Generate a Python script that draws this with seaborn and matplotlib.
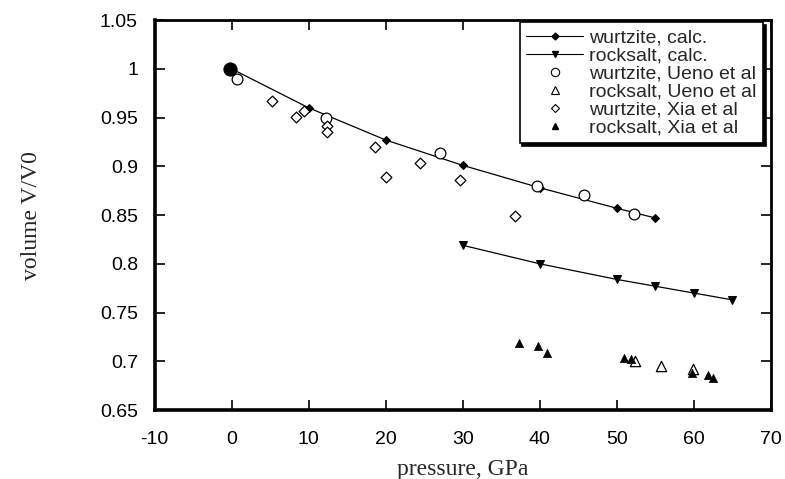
import numpy as np
import pandas as pd
import seaborn as sns
import matplotlib
matplotlib.use("Agg")
import matplotlib.pyplot as plt
from matplotlib.lines import Line2D
from matplotlib.ticker import FuncFormatter

# ---- data ----
wz_calc_p = [0, 10, 20, 30, 40, 50, 55]
wz_calc_v = [1.0, 0.960, 0.927, 0.901, 0.878, 0.857, 0.847]

rs_calc_p = [30, 40, 50, 55, 60, 65]
rs_calc_v = [0.819, 0.800, 0.784, 0.777, 0.770, 0.763]

wz_ueno_p = [0.7, 12.2, 27.1, 39.6, 45.8, 52.2]
wz_ueno_v = [0.990, 0.950, 0.914, 0.880, 0.871, 0.851]

rs_ueno_p = [52.4, 55.8, 59.9]
rs_ueno_v = [0.700, 0.695, 0.692]

wz_xia_p = [5.2, 8.4, 9.4, 12.4, 12.4, 18.6, 20.0, 24.4, 29.6, 36.8]
wz_xia_v = [0.967, 0.951, 0.957, 0.941, 0.935, 0.920, 0.889, 0.903, 0.886, 0.849]

rs_xia_p = [37.3, 39.8, 41.0, 50.9, 51.9, 59.8, 61.8, 62.5]
rs_xia_v = [0.719, 0.716, 0.708, 0.703, 0.702, 0.688, 0.686, 0.683]

v0_p = [-0.2]
v0_v = [1.0]

labels = ["wurtzite, calc.", "rocksalt, calc.", "wurtzite, Ueno et al",
          "rocksalt, Ueno et al", "wurtzite, Xia et al", "rocksalt, Xia et al"]
xticks = [-10, 0, 10, 20, 30, 40, 50, 60, 70]
yticks = [0.65, 0.7, 0.75, 0.8, 0.85, 0.9, 0.95, 1.0, 1.05]

sns.set_theme(style="ticks")
plt.rcParams["font.family"] = ["Liberation Sans", "DejaVu Sans"]
plt.rcParams["axes.unicode_minus"] = False

fig = plt.figure(figsize=(7.85, 4.79), dpi=100)
ax = fig.add_axes([0.197, 0.144, 0.785, 0.814])

# calculated curves
sns.lineplot(x=wz_calc_p, y=wz_calc_v, ax=ax, color="black", lw=0.9,
             marker="D", markersize=4, markeredgecolor="black", markerfacecolor="black")
sns.lineplot(x=rs_calc_p, y=rs_calc_v, ax=ax, color="black", lw=0.9,
             marker="v", markersize=6, markeredgecolor="black", markerfacecolor="black")
# experiment
sns.scatterplot(x=wz_ueno_p, y=wz_ueno_v, ax=ax, marker="o", s=60,
                facecolor="white", edgecolor="black", linewidth=0.9, zorder=3)
sns.scatterplot(x=rs_ueno_p, y=rs_ueno_v, ax=ax, marker="^", s=55,
                facecolor="white", edgecolor="black", linewidth=0.9, zorder=3)
sns.scatterplot(x=wz_xia_p, y=wz_xia_v, ax=ax, marker="D", s=30,
                facecolor="white", edgecolor="black", linewidth=0.9, zorder=3)
sns.scatterplot(x=rs_xia_p, y=rs_xia_v, ax=ax, marker="^", s=35,
                color="black", edgecolor="black", linewidth=0.5, zorder=4)
sns.scatterplot(x=v0_p, y=v0_v, ax=ax, marker="o", s=90,
                color="black", edgecolor="black", zorder=5)

ax.set_xlim(-10, 70)
ax.set_ylim(0.65, 1.05)
ax.set_xticks(xticks)
ax.set_yticks(yticks)
ax.yaxis.set_major_formatter(FuncFormatter(lambda v, p: f"{v:g}"))
ax.tick_params(direction="in", length=7, width=1.2, top=True, right=True,
               labelsize=14, colors="black")
ax.tick_params(axis="x", pad=15)
ax.tick_params(axis="y", pad=12)
for s in ax.spines.values():
    s.set_linewidth(2)
    s.set_color("black")
ax.spines["left"].set_linewidth(2.6)
ax.spines["bottom"].set_linewidth(2.6)

ax.set_xlabel("pressure, GPa", family=["Liberation Serif", "DejaVu Serif"],
              fontsize=17, labelpad=8)
ax.set_ylabel("volume V/V0", family=["Liberation Serif", "DejaVu Serif"],
              fontsize=17, labelpad=42)

handles = [
    Line2D([], [], color="black", lw=0.8, marker="D", markersize=3.5),
    Line2D([], [], color="black", lw=0.8, marker="v", markersize=5),
    Line2D([], [], ls="none", marker="o", markersize=6, mfc="white", mec="black", mew=0.8),
    Line2D([], [], ls="none", marker="^", markersize=6, mfc="white", mec="black", mew=0.8),
    Line2D([], [], ls="none", marker="D", markersize=4.5, mfc="white", mec="black", mew=0.8),
    Line2D([], [], ls="none", marker="^", markersize=5, mfc="black", mec="black"),
]
leg = ax.legend(handles, labels, loc="upper right", bbox_to_anchor=(0.99, 1.0),
                fontsize=14, labelspacing=0.02, handlelength=2.9, handletextpad=0.3,
                borderpad=0.35, borderaxespad=0.1, fancybox=False, frameon=True,
                shadow={"color": "black", "alpha": 1})
leg.get_frame().set_edgecolor("black")
leg.get_frame().set_linewidth(1.2)

fig.savefig("out.png", dpi=100)
